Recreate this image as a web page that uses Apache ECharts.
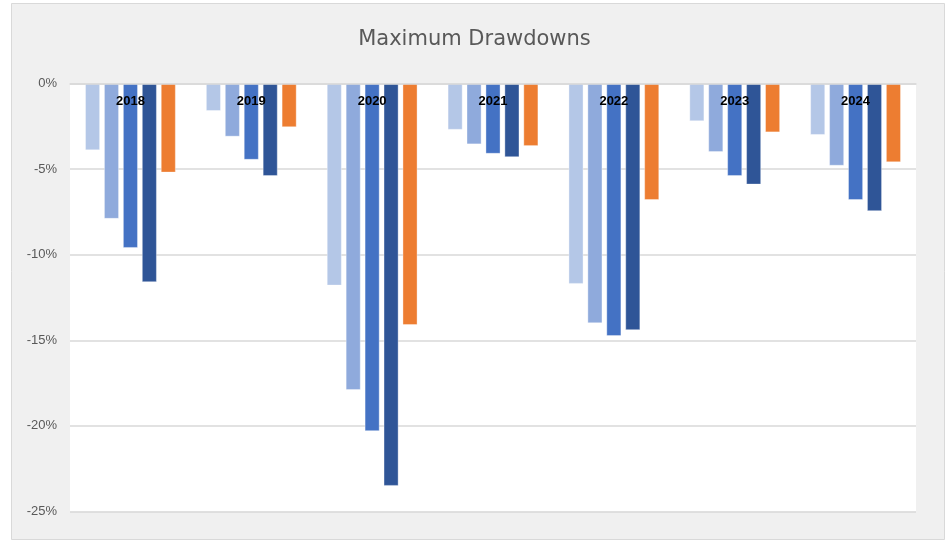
<!DOCTYPE html>
<html>
<head>
<meta charset="utf-8">
<script src="https://cdn.jsdelivr.net/npm/echarts@6/dist/echarts.min.js"></script>
<style>
  html, body { margin: 0; padding: 0; background: #fff; }
  #chart { width: 949px; height: 541px; }
</style>
</head>
<body>
<div id="chart"></div>
<script>
// data (percent)
const years = ['2018', '2019', '2020', '2021', '2022', '2023', '2024']
const series1 = [-3.9, -1.6, -11.8, -2.7, -11.7, -2.2, -3.0]
const series2 = [-7.9, -3.1, -17.9, -3.55, -14.0, -4.0, -4.8]
const series3 = [-9.6, -4.45, -20.3, -4.1, -14.75, -5.4, -6.8]
const series4 = [-11.6, -5.4, -23.5, -4.3, -14.4, -5.9, -7.45]
const series5 = [-5.2, -2.55, -14.1, -3.65, -6.8, -2.85, -4.6]
const yTicks = { min: -25, max: 0, step: 5 }

const colors = ['#b4c7e7', '#8faadc', '#4472c4', '#2f5597', '#ed7d31']
const allSeries = [series1, series2, series3, series4, series5]

const myChart = echarts.init(document.getElementById('chart'))

const option = {
  backgroundColor: '#ffffff',
  animation: false,
  graphic: [
    {
      type: 'rect',
      z: -10,
      shape: { x: 11.5, y: 3.5, width: 933, height: 536 },
      style: { fill: '#f0f0f0', stroke: '#d9d9d9', lineWidth: 1 }
    }
  ],
  title: {
    text: 'Maximum Drawdowns',
    left: 'center',
    top: 24,
    textStyle: {
      color: '#595959',
      fontFamily: 'DejaVu Sans',
      fontWeight: 'normal',
      fontSize: 21
    }
  },
  grid: {
    left: 70,
    right: 33,
    top: 83.5,
    bottom: 29.5,
    show: true,
    backgroundColor: '#ffffff',
    borderWidth: 0
  },
  xAxis: {
    type: 'category',
    data: years,
    position: 'top',
    z: 10,
    axisLine: { show: true, lineStyle: { color: '#d9d9d9', width: 1.5 } },
    axisTick: { show: false },
    axisLabel: {
      inside: true,
      margin: 11,
      color: '#000',
      fontWeight: 'bold',
      fontSize: 13,
      fontFamily: 'Liberation Sans'
    }
  },
  yAxis: {
    type: 'value',
    min: yTicks.min,
    max: yTicks.max,
    interval: yTicks.step,
    axisLine: { show: false },
    axisTick: { show: false },
    axisLabel: {
      formatter: '{value}%',
      margin: 13,
      color: '#595959',
      fontSize: 13,
      fontFamily: 'Liberation Sans'
    },
    splitLine: { lineStyle: { color: '#d9d9d9', width: 1.5 } }
  },
  series: allSeries.map((vals, i) => ({
    type: 'bar',
    name: 'Series ' + (i + 1),
    data: vals,
    barGap: '27%',
    barCategoryGap: '25%',
    itemStyle: {
      color: colors[i],
      borderColor: 'rgba(255,255,255,0.45)',
      borderWidth: 0.8
    }
  }))
}

myChart.setOption(option)
</script>
</body>
</html>
